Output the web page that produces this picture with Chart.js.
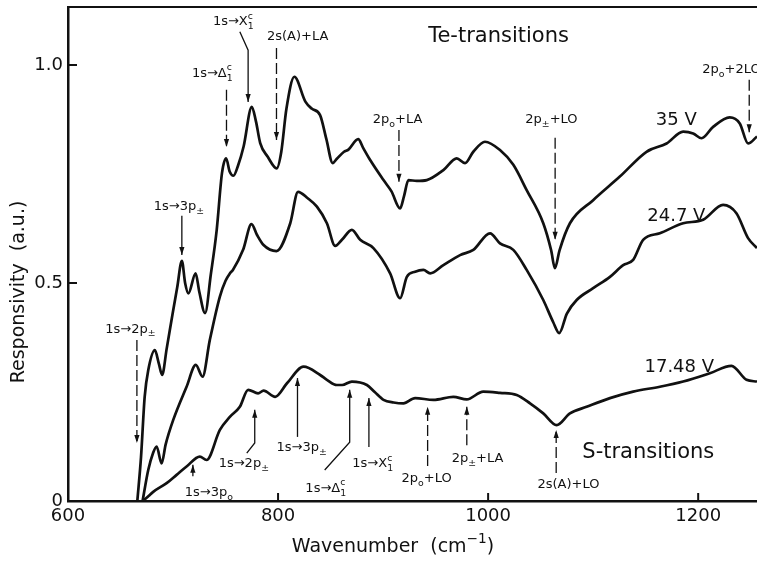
<!DOCTYPE html>
<html>
<head>
<meta charset="utf-8">
<script src="https://cdn.jsdelivr.net/npm/chart.js@4.4.1/dist/chart.umd.min.js"></script>
<style>
  html, body { margin: 0; padding: 0; background: #fff; }
  #wrap { width: 757px; height: 561px; }
</style>
</head>
<body>
<div id="wrap"><canvas id="chart" width="757" height="561"></canvas></div>
<script>
// Responsivity spectra: wavenumber (cm^-1) / responsivity (a.u.)
const wn35 = [666, 669.5, 673, 676.4, 682.7, 686.5, 689.6, 694, 700, 704, 708.4, 711.5, 714.6, 721.5, 725, 730.5,
  736, 741.6, 746.6, 750.5, 754, 757.5, 762, 767.2, 775, 779, 783, 790, 798.7, 803, 808, 815.5, 826, 832, 840,
  846, 852, 856, 862.8, 867, 876.3, 881, 887.7, 900.4, 908, 916.2, 920, 924.1, 932, 941.6, 957.4, 970.1, 978,
  985.9, 997, 1011.3, 1024, 1036.7, 1052.5, 1060, 1063.6, 1068, 1077.9, 1100, 1125.4, 1150.8, 1169.9, 1185.7,
  1195.2, 1203.2, 1214.2, 1230, 1239.6, 1247.5, 1256];
const r35 = [0, 0.10, 0.239, 0.30, 0.346, 0.315, 0.289, 0.35, 0.435, 0.49, 0.551, 0.50, 0.476, 0.522, 0.48, 0.431,
  0.52, 0.622, 0.752, 0.786, 0.755, 0.746, 0.77, 0.813, 0.904, 0.87, 0.821, 0.79, 0.763, 0.80, 0.90, 0.973, 0.916, 0.90, 0.885,
  0.83, 0.775, 0.785, 0.801, 0.806, 0.83, 0.81, 0.782, 0.736, 0.71, 0.671, 0.70, 0.736, 0.734, 0.736, 0.759, 0.786, 0.775,
  0.801, 0.824, 0.805, 0.771, 0.713, 0.637, 0.575, 0.534, 0.575, 0.637, 0.69, 0.744, 0.801, 0.820, 0.847,
  0.843, 0.832, 0.858, 0.880, 0.866, 0.820, 0.836];

const wn247 = [671, 676.4, 681, 684.4, 689.1, 693, 700.2, 712.9, 721.7, 728.1, 735, 744.6, 750, 754.1,
  757, 766.7, 774.7, 780, 786.2, 798.5, 811.6, 819, 828, 837, 846.5, 854.4, 860.8, 870.3, 878.2, 890.8, 906.7,
  916.2, 922.6, 930.5, 938.4, 944.8, 957.4, 973.3, 985.9, 1001.8, 1011.3, 1024, 1036.7, 1052.5, 1062, 1067.7,
  1075, 1084.3, 1100, 1116, 1128.6, 1138.1, 1147.6, 1163.5, 1185.7, 1204.7, 1223.7, 1236.4, 1247.5, 1256];
const r247 = [0, 0.071, 0.11, 0.125, 0.086, 0.13, 0.186, 0.262, 0.312, 0.285, 0.369, 0.469, 0.505, 0.522,
  0.53, 0.576, 0.635, 0.61, 0.587, 0.573, 0.637, 0.709, 0.695, 0.675, 0.637, 0.585, 0.599, 0.622, 0.599, 0.580, 0.522,
  0.465, 0.514, 0.526, 0.530, 0.522, 0.541, 0.564, 0.576, 0.614, 0.591, 0.576, 0.530, 0.461, 0.41, 0.385,
  0.43, 0.461, 0.488, 0.514, 0.541, 0.553, 0.599, 0.614, 0.637, 0.645, 0.679, 0.660, 0.603, 0.580];

const wn1748 = [671.3, 677, 681.1, 693.9, 703.4, 712.9, 725.5, 731.9, 744.6, 754.1, 763.6, 771.5, 781, 786.2, 797.3, 808.5,
  824.3, 840.1, 846.5, 856, 861, 870.3, 884.6, 892, 900.4, 910, 919.4, 930.5, 947.9, 966.9, 979.6, 995.4, 1011.3,
  1027.2, 1039.9, 1052.5, 1065.2, 1077.9, 1093.7, 1116, 1138.1, 1163.5, 1185.7, 1211.1, 1231.7, 1246, 1256];
const r1748 = [0, 0.012, 0.021, 0.041, 0.060, 0.079, 0.102, 0.094, 0.163, 0.193, 0.216, 0.255, 0.247, 0.253, 0.239, 0.270,
  0.308, 0.289, 0.278, 0.266, 0.266, 0.274, 0.266, 0.25, 0.232, 0.226, 0.224, 0.236, 0.232, 0.239, 0.233, 0.251, 0.248,
  0.243, 0.224, 0.201, 0.174, 0.201, 0.216, 0.236, 0.251, 0.262, 0.274, 0.293, 0.310, 0.278, 0.274];

const xTicks = [600, 800, 1000, 1200];
const xTickLabels = ['600', '800', '1000', '1200'];
const yTicks = [0, 0.5, 1.0];
const yTickLabels = ['0', '0.5', '1.0'];

// transition markers: label anchor and arrow path in data units (_{} subscript, ^{} superscript)
const teMarks = [
  { label: '1s→2p_{±}', at: [659.4, 0.397], path: [[665.6, 0.369], [665.6, 0.133]], dashed: true },
  { label: '1s→3p_{±}', at: [705.6, 0.679], path: [[708.4, 0.654], [708.4, 0.564]] },
  { label: '1s→Δ_{1}^{c}', at: [737.4, 0.984], path: [[750.9, 0.943], [750.9, 0.812]], dashed: true },
  { label: '1s→X_{1}^{c}', at: [757.4, 1.103], path: [[763.6, 1.076], [771.5, 1.034], [771.5, 0.915]] },
  { label: '2s(A)+LA', at: [818.7, 1.067], path: [[798.5, 1.039], [798.5, 0.828]], dashed: true },
  { label: '2p_{o}+LA', at: [913.8, 0.878], path: [[915.1, 0.851], [915.1, 0.732]], dashed: true },
  { label: '2p_{±}+LO', at: [1060.3, 0.878], path: [[1063.8, 0.833], [1063.8, 0.599]], dashed: true },
  { label: '2p_{o}+2LO', at: [1203.9, 0.993], align: 'left', path: [[1248.6, 0.966], [1248.6, 0.846]], dashed: true }
];
const sMarks = [
  { label: '1s→3p_{o}', at: [734.1, 0.023], path: [[718.9, 0.057], [718.9, 0.083]] },
  { label: '1s→2p_{±}', at: [767.4, 0.089], path: [[770.2, 0.110], [777.8, 0.133], [777.8, 0.209]] },
  { label: '1s→3p_{±}', at: [822.5, 0.126], path: [[818.5, 0.147], [818.5, 0.282]] },
  { label: '1s→Δ_{1}^{c}', at: [845.4, 0.032], path: [[844.4, 0.071], [868.2, 0.135], [868.2, 0.255]] },
  { label: '1s→X_{1}^{c}', at: [890.1, 0.089], path: [[886.5, 0.124], [886.5, 0.236]] },
  { label: '2p_{o}+LO', at: [941.4, 0.055], path: [[942.4, 0.080], [942.4, 0.216]], dashed: true },
  { label: '2p_{±}+LA', at: [989.9, 0.101], path: [[979.7, 0.128], [979.7, 0.216]], dashed: true },
  { label: '2s(A)+LO', at: [1076.5, 0.041], path: [[1064.8, 0.064], [1064.8, 0.163]], dashed: true }
];
const groupLabels = [
  { label: 'Te-transitions', at: [1009.9, 1.069] },
  { label: 'S-transitions', at: [1152.5, 0.115] }
];
const curveLabels = [
  { label: '35 V', at: [1179.2, 0.878] },
  { label: '24.7 V', at: [1179.2, 0.658] },
  { label: '17.48 V', at: [1182.0, 0.310] }
];

const FONT = '"DejaVu Sans", sans-serif';
const INK = '#111';

function parseRich(str) {
  const parts = [];
  const re = /([_^])\{([^}]*)\}|([^_^]+)/g;
  let m;
  while ((m = re.exec(str))) {
    if (m[3]) parts.push({ t: m[3], k: 'n' });
    else parts.push({ t: m[2], k: m[1] === '_' ? 'sub' : 'sup' });
  }
  return parts;
}

// draws text with sub/superscripts, y is the middle of the main text
function drawRich(ctx, str, x, y, size, align) {
  const parts = parseRich(str);
  const items = [];
  let w = 0;
  parts.forEach((p, i) => {
    const fs = p.k === 'n' ? size : size * 0.72;
    ctx.font = fs + 'px ' + FONT;
    const pw = ctx.measureText(p.t).width;
    if (p.k === 'sup' && i > 0 && parts[i - 1].k === 'sub') {
      const sx = items[items.length - 1].x;
      items.push({ ...p, x: sx, fs });
      w = Math.max(w, sx + pw);
    } else {
      items.push({ ...p, x: w, fs });
      w += pw;
    }
  });
  const x0 = align === 'left' ? x : align === 'right' ? x - w : x - w / 2;
  const base = y + size * 0.36;
  ctx.textAlign = 'left';
  ctx.textBaseline = 'alphabetic';
  items.forEach(it => {
    ctx.font = it.fs + 'px ' + FONT;
    const dy = it.k === 'sub' ? size * 0.3 : it.k === 'sup' ? -size * 0.48 : 0;
    ctx.fillText(it.t, x0 + it.x, base + dy);
  });
}

function drawArrow(ctx, pts, dashed) {
  ctx.save();
  ctx.lineWidth = 1.3;
  ctx.setLineDash(dashed ? [11, 4] : []);
  ctx.beginPath();
  pts.forEach((p, i) => (i ? ctx.lineTo(p[0], p[1]) : ctx.moveTo(p[0], p[1])));
  ctx.stroke();
  ctx.setLineDash([]);
  const [ax, ay] = pts[pts.length - 1];
  const [bx, by] = pts[pts.length - 2];
  const ang = Math.atan2(ay - by, ax - bx);
  const L = 8, W = 2.6;
  ctx.beginPath();
  ctx.moveTo(ax, ay);
  ctx.lineTo(ax - L * Math.cos(ang) + W * Math.sin(ang), ay - L * Math.sin(ang) - W * Math.cos(ang));
  ctx.lineTo(ax - L * Math.cos(ang) - W * Math.sin(ang), ay - L * Math.sin(ang) + W * Math.cos(ang));
  ctx.closePath();
  ctx.fill();
  ctx.restore();
}

const decorations = {
  id: 'decorations',
  afterDatasetsDraw(chart) {
    const { ctx, chartArea: a, scales: { x, y } } = chart;
    const px = p => [x.getPixelForValue(p[0]), y.getPixelForValue(p[1])];
    ctx.save();
    ctx.strokeStyle = INK;
    ctx.fillStyle = INK;

    // top frame and inward ticks
    ctx.lineWidth = 2;
    ctx.beginPath();
    ctx.moveTo(a.left, a.top);
    ctx.lineTo(a.right, a.top);
    ctx.stroke();
    yTicks.slice(1).forEach(v => {
      const yy = y.getPixelForValue(v);
      ctx.beginPath(); ctx.moveTo(a.left, yy); ctx.lineTo(a.left + 9, yy); ctx.stroke();
    });
    xTicks.slice(1).forEach(v => {
      const xx = x.getPixelForValue(v);
      ctx.beginPath(); ctx.moveTo(xx, a.bottom); ctx.lineTo(xx, a.bottom - 8); ctx.stroke();
    });

    teMarks.concat(sMarks).forEach(m => {
      const [tx, ty] = px(m.at);
      drawRich(ctx, m.label, tx, ty, 13, m.align);
      drawArrow(ctx, m.path.map(px), m.dashed);
    });
    groupLabels.forEach(m => {
      const [tx, ty] = px(m.at);
      drawRich(ctx, m.label, tx, ty, 21);
    });
    curveLabels.forEach(m => {
      const [tx, ty] = px(m.at);
      drawRich(ctx, m.label, tx, ty, 18);
    });

    // axis titles
    drawRich(ctx, 'Wavenumber  (cm^{−1})', 393, 545, 19);
    ctx.save();
    ctx.translate(17, 292);
    ctx.rotate(-Math.PI / 2);
    drawRich(ctx, 'Responsivity  (a.u.)', 0, 0, 19);
    ctx.restore();
    ctx.restore();
  }
};

const series = [[wn35, r35], [wn247, r247], [wn1748, r1748]];

new Chart(document.getElementById('chart'), {
  type: 'scatter',
  data: {
    datasets: series.map(([xs, ys]) => ({
      data: xs.map((v, i) => ({ x: v, y: ys[i] })),
      showLine: true,
      borderColor: INK,
      borderWidth: 2.7,
      pointRadius: 0,
      cubicInterpolationMode: 'monotone',
      fill: false
    }))
  },
  options: {
    responsive: false,
    devicePixelRatio: 1,
    animation: false,
    layout: { padding: { left: 0, right: 0, top: 7, bottom: 0 } },
    plugins: { legend: { display: false }, tooltip: { enabled: false } },
    scales: {
      x: {
        type: 'linear', min: 600, max: 1256,
        afterBuildTicks: s => { s.ticks = xTicks.map(v => ({ value: v })); },
        afterFit: s => { s.height = 60; s.paddingLeft = 0; s.paddingRight = 0; },
        ticks: { color: INK, font: { family: FONT, size: 18 }, padding: 5, maxRotation: 0, autoSkip: false,
          callback: (v, i) => xTickLabels[i] },
        grid: { display: false, drawTicks: false },
        border: { display: true, color: INK, width: 2.5 }
      },
      y: {
        type: 'linear', min: 0, max: 1.133,
        afterBuildTicks: s => { s.ticks = yTicks.map(v => ({ value: v })); },
        afterFit: s => { s.width = 68; s.paddingTop = 0; s.paddingBottom = 0; },
        ticks: { color: INK, font: { family: FONT, size: 18 }, padding: 5, callback: (v, i) => yTickLabels[i] },
        grid: { display: false, drawTicks: false },
        border: { display: true, color: INK, width: 2.5 }
      }
    }
  },
  plugins: [decorations]
});
</script>
</body>
</html>
